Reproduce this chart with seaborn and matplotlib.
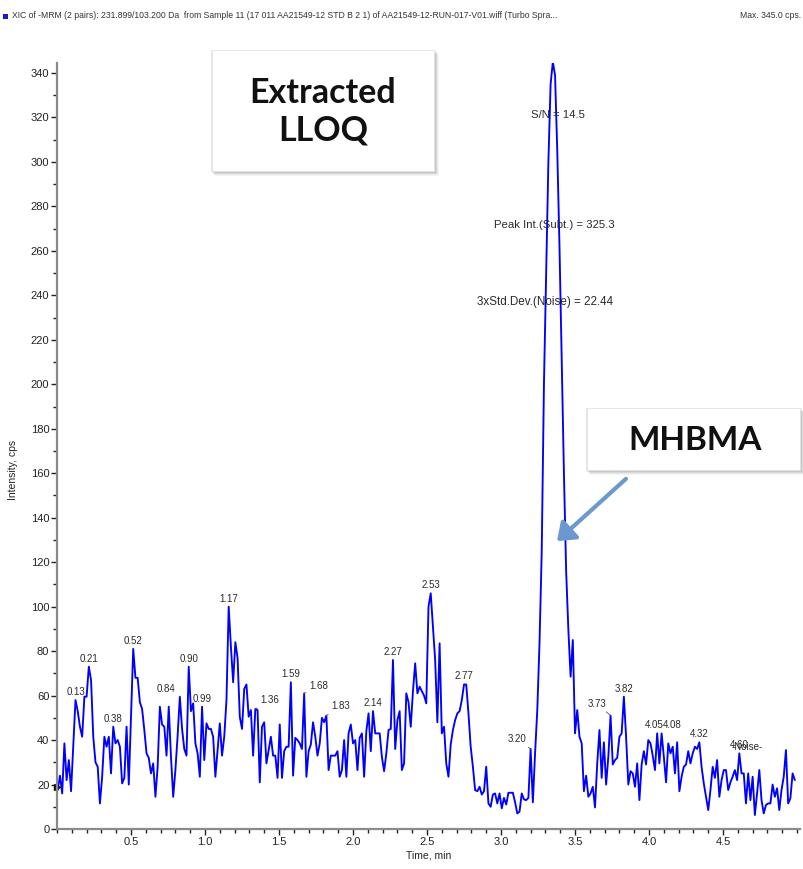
import numpy as np
import pandas as pd
import matplotlib
matplotlib.use("Agg")
import matplotlib.pyplot as plt
from matplotlib.patches import Rectangle, FancyArrowPatch
from matplotlib.ticker import MultipleLocator
import seaborn as sns

# ---- chromatogram data (XIC, 231.899/103.200 Da) ----
scan_start = 0.005   # min
cycle_time = 0.015   # min per scan

intensity_a = [17.5, 24, 16, 38.5, 22, 31, 17, 37, 58,
               53, 46, 41.5, 59.5, 59.5, 73,
               67, 41.5, 30, 28, 11.5, 23.5, 41.5, 37, 41.5, 25, 46,
               38.5, 40, 37, 20.5, 23, 46, 20, 50, 81,
               68, 68, 57, 54, 44.5, 34, 32, 25, 29.5, 14.5, 28, 55, 47, 46, 33, 55, 32.5, 14.5, 26.5, 42, 59.5,
               45, 36, 33, 73, 53, 56.5, 38.5, 34, 23.5, 55,
               31, 47.5, 45, 45, 41.5, 23.5, 35.5, 47.5, 33, 41.5, 58, 100]
intensity_b = [82, 66, 84, 77, 50.5, 45, 63, 65, 50.5, 53.5, 33, 54, 53.5,
               21, 46, 48, 29.5, 35.5, 41.5, 33, 33, 23, 47, 23, 35, 37, 37, 66,
               24, 41, 40, 38.5, 36, 61,
               23.5, 35, 38, 48, 41.5, 33, 38.5, 50, 48, 51,
               26.5, 33, 33, 33, 35, 23.5, 26.5, 40, 23.5, 43, 47, 38.5, 40, 26.5, 41, 43, 23.5, 44, 52, 35, 53,
               43, 43, 43, 32.5, 26, 34, 44.5, 45, 76]
intensity_c = [36, 49, 53, 26.5, 29.5, 61, 57, 46, 62, 74.5, 61, 64, 62, 60, 56.5, 100, 106,
               91, 76, 48, 83.5, 43, 46, 29.5, 23.5, 38, 44.5, 49, 52, 53, 58, 65, 65,
               52, 37, 28, 17.5, 17, 19, 15.5, 17, 28, 11.5, 10, 15.5, 16, 11.5, 16, 9.3, 14, 11,
               16.3, 16.3, 16.3, 12, 7, 7.8, 16, 13.3, 13, 14]
intensity_d = [36, 12, 34, 53.5, 83.5, 125, 200, 250, 300, 335, 345,
               339, 305, 262, 210, 160, 116, 89.5, 68.5, 85, 43, 53.5, 41.5, 38.5, 17, 24, 14.5, 16, 19,
               9.7, 29.5, 44.5, 23, 39, 20, 32.5, 51]
intensity_e = [29, 31, 32, 41.5, 43, 59.5,
               41.5, 20, 26, 25, 19, 29.5, 13, 29, 35, 29, 40, 38.5, 33, 26.5, 43, 29.5, 43,
               32.5, 21, 38.5, 34, 37, 25, 39, 17, 23.5, 28, 29, 35, 29.5, 34, 37, 36, 39,
               28, 20.5, 14.5, 8.5, 17.5, 28, 23, 31, 14.5, 22, 26.5, 26.5, 17.5, 21, 23.5, 26.5, 22, 34,
               25, 25, 11.5, 25, 13, 23.5, 6.3, 16, 26.5, 13, 7, 10.8, 11.5, 11.5, 20, 14.5, 18.3,
               8.5, 17.5, 23.5, 35.5, 11.5, 13.8, 25, 22]

peak_labels = ["0.13", "0.21", "0.38", "0.52", "0.84", "0.90", "0.99", "1.17", "1.36",
               "1.59", "1.68", "1.83", "2.14", "2.27", "2.53", "2.77", "3.20", "3.34",
               "3.73", "3.82", "4.05", "4.08", "4.32", "4.60"]

stats_text = ["S/N = 14.5", "Peak Int.(Subt.) = 325.3", "3xStd.Dev.(Noise) = 22.44"]
max_intensity = 345.0

intensity = np.array(intensity_a + intensity_b + intensity_c + intensity_d + intensity_e, dtype=float)
time = scan_start + cycle_time * np.arange(len(intensity))
df = pd.DataFrame({"Time, min": time, "Intensity, cps": intensity})

# ---- styling ----
sns.set_style("ticks")
SANS = ["Liberation Sans", "DejaVu Sans"]
plt.rcParams["font.family"] = SANS

W, H = 804, 869
fig = plt.figure(figsize=(W / 100, H / 100), dpi=100)
fig.patch.set_facecolor("white")

def fx(px):
    return px / W

def fy(py):
    return 1 - py / H

ax_left, ax_right, ax_top, ax_bottom = 57, 800, 63, 829
ax = fig.add_axes([fx(ax_left), fy(ax_bottom), (ax_right - ax_left) / W, (ax_bottom - ax_top) / H])

sns.lineplot(data=df, x="Time, min", y="Intensity, cps", ax=ax, color="#0000FF",
             linewidth=1.35, estimator=None, sort=False)

ax.set_xlim(0, 5.02)
ax.set_ylim(0, 344.5)
ax.xaxis.set_minor_locator(MultipleLocator(0.1))
ax.yaxis.set_major_locator(MultipleLocator(20))
ax.yaxis.set_minor_locator(MultipleLocator(10))
ax.set_xticks(np.arange(0.5, 4.51, 0.5))
ax.set_xticklabels([f"{v:.1f}" for v in np.arange(0.5, 4.51, 0.5)])
for s in ["top", "right"]:
    ax.spines[s].set_visible(False)
for s in ["left", "bottom"]:
    ax.spines[s].set_color("#8a8a8a")
    ax.spines[s].set_linewidth(1.6)
ax.tick_params(axis="both", which="major", length=4, width=1.0, color="#222222",
               labelsize=8, labelcolor="#222222", pad=1.5)
ax.tick_params(axis="both", which="minor", length=3, width=1.0, color="#222222")
ax.set_xlabel("Time, min", fontsize=7.5, color="#222222", labelpad=3)
ax.set_ylabel("")
fig.text(fx(13), fy(470), "Intensity, cps", rotation=90, ha="center", va="center",
         fontsize=7.5, color="#222222")

# noise-region start marker
ax.plot([0.0], [19], marker=">", color="#111111", markersize=5, clip_on=False)

# ---- peak apex labels ----
# (dx px, dy px, ha, leader)
placement = {
    "0.84": (-4, 3, "right", True),
    "3.20": (-4, 5, "right", True),
    "3.73": (-4, 7, "right", True),
    "1.36": (5, 3.5, "left", True),
    "1.68": (5, 2, "left", True),
    "1.83": (5, 4.5, "left", True),
    "4.05": (6, 3, "right", False),
    "4.08": (1.5, 3, "left", False),
}
for lab in peak_labels:
    t = float(lab)
    i0 = int(round((t - scan_start) / cycle_time))
    lo, hi = max(i0 - 1, 0), min(i0 + 2, len(intensity))
    i = lo + int(np.argmax(intensity[lo:hi]))
    dx, dy, ha, leader = placement.get(lab, (0, 3, "center", False))
    ax.annotate(lab, xy=(time[i], intensity[i]), xytext=(dx * 0.72, dy * 0.72),
                textcoords="offset points", ha=ha, va="bottom", fontsize=7, color="#2a2a2a",
                arrowprops=dict(arrowstyle="-", color="#555555", lw=0.6,
                                shrinkA=0, shrinkB=0) if leader else None)

ax.text(4.665, 37, "-Noise-", ha="center", va="center", fontsize=7, color="#2a2a2a")

# ---- peak statistics ----
ax.text(3.385, 321, stats_text[0], ha="center", va="center", fontsize=8.2, color="#2a2a2a")
ax.text(3.36, 271.5, stats_text[1], ha="center", va="center", fontsize=8.2, color="#2a2a2a")
ax.text(3.30, 237, stats_text[2], ha="center", va="center", fontsize=8.4, color="#2a2a2a")

# ---- header ----
fig.patches.append(Rectangle((fx(3), fy(19)), 5 / W, 5 / H, transform=fig.transFigure,
                             facecolor="#1a1acc", edgecolor="none"))
fig.text(fx(12), fy(16), "XIC of -MRM (2 pairs): 231.899/103.200 Da  from Sample 11 (17 011 AA21549-12 STD B 2 1) "
         "of AA21549-12-RUN-017-V01.wiff (Turbo Spra...", ha="left", va="center", fontsize=6.2,
         color="#333333")
fig.text(fx(801), fy(16), f"Max. {max_intensity:.1f} cps.", ha="right", va="center", fontsize=6.2,
         color="#333333")

# ---- callout boxes with soft drop shadows ----
def shadow_box(x0, y0, x1, y1):
    for k, a in enumerate([0.05, 0.07, 0.09, 0.11, 0.13]):
        off = 5 - k
        fig.patches.append(Rectangle((fx(x0 + off - 2), fy(y1 + off)), (x1 - x0 + 2) / W,
                                     (y1 - y0 + 1) / H, transform=fig.transFigure,
                                     facecolor="#404040", edgecolor="none", alpha=a, zorder=5))
    fig.patches.append(Rectangle((fx(x0), fy(y1)), (x1 - x0) / W, (y1 - y0) / H,
                                 transform=fig.transFigure, facecolor="white",
                                 edgecolor="#e4e4e4", linewidth=0.6, zorder=6))

BOLD = ["Lato", "DejaVu Sans"]
shadow_box(212, 50, 434, 171)
fig.text(fx(323), fy(112), "Extracted\nLLOQ", ha="center", va="center", fontsize=24.5,
         fontweight="bold", family=BOLD, color="#111111", linespacing=1.22, zorder=7)

shadow_box(587, 408, 800, 470)
fig.text(fx(695), fy(440), "MHBMA", ha="center", va="center", fontsize=24,
         fontweight="bold", family=BOLD, color="#111111", zorder=7)

arrow = FancyArrowPatch((fx(628), fy(477)), (fx(555), fy(543)), transform=fig.transFigure,
                        arrowstyle="-|>,head_length=0.5,head_width=0.38", mutation_scale=20,
                        color="#6a98cf", linewidth=3.0, zorder=8)
fig.patches.append(arrow)

fig.savefig("out.png", dpi=100, facecolor="white")
